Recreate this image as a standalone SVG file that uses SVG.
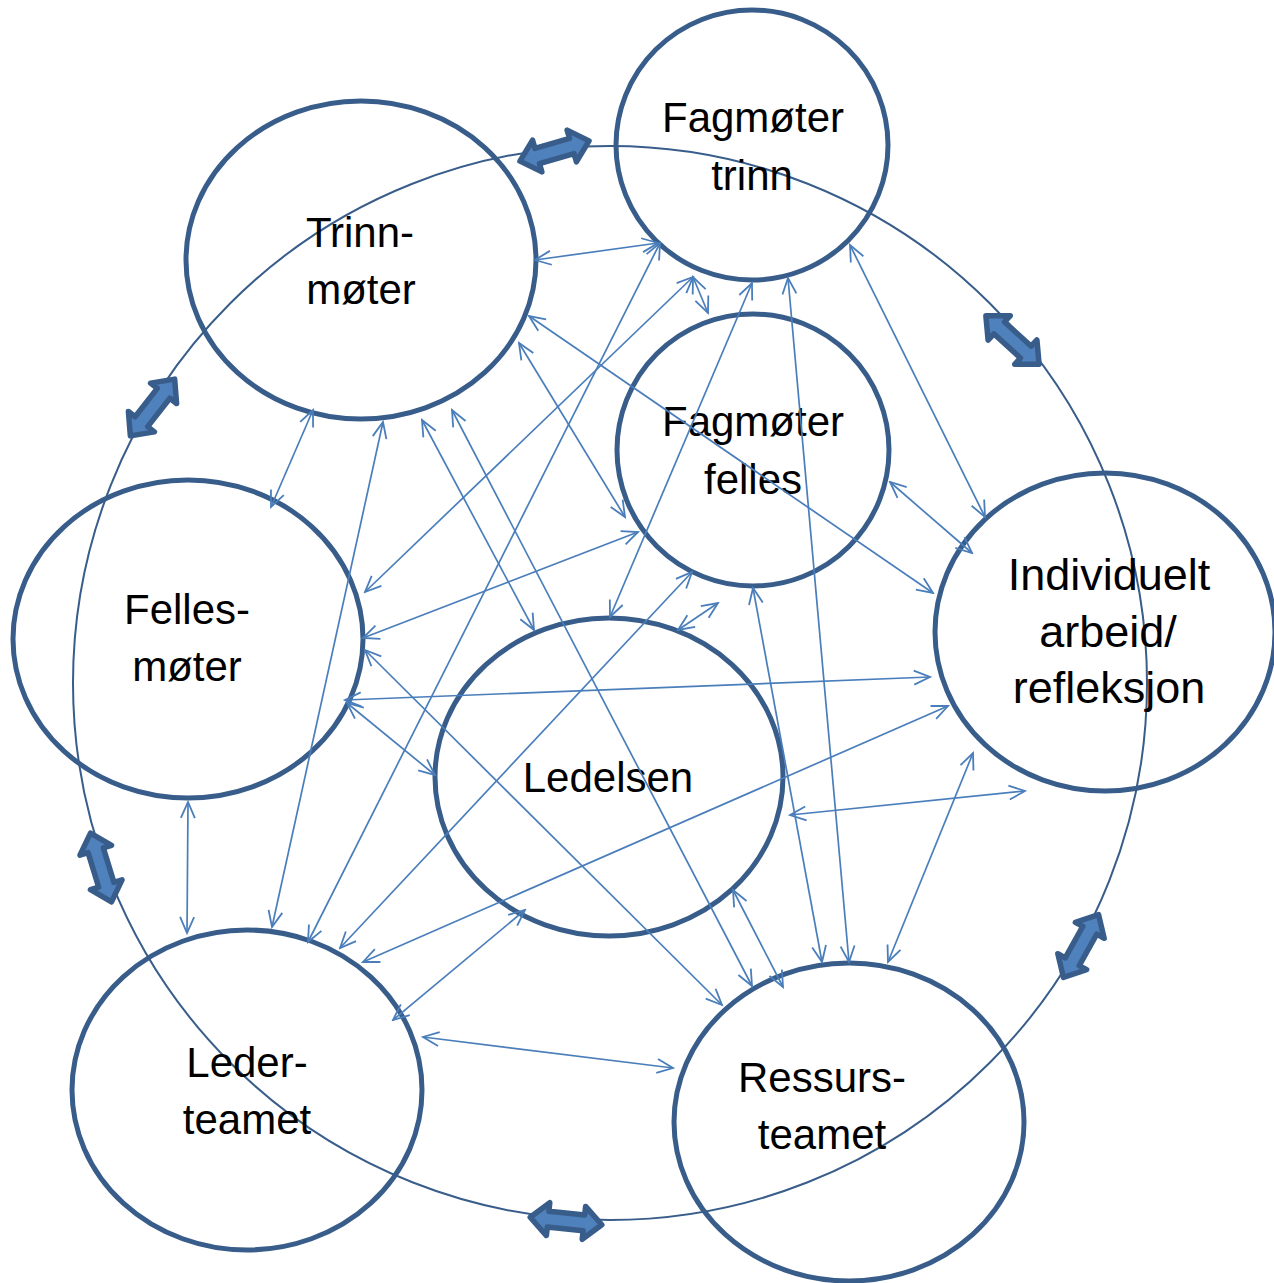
<svg xmlns="http://www.w3.org/2000/svg" xmlns:xlink="http://www.w3.org/1999/xlink" width="1274" height="1283" viewBox="0 0 1274 1283">
<style>
.node{fill:none;stroke:#385D8A;stroke-width:5}
.lbl{font-family:"Liberation Sans",Arial,sans-serif;font-size:42px;fill:#000;text-anchor:middle}
.con line{stroke:#4A7EBB;stroke-width:1.7;marker-start:url(#a);marker-end:url(#a)}
.ring{fill:none;stroke:#385D8A;stroke-width:2}
.big{fill:#4F81BD;stroke:#385D8A;stroke-width:5.5;stroke-linejoin:round}
</style>
<defs>
<marker id="a" viewBox="-18 -9 20 18" refX="0" refY="0" markerWidth="20" markerHeight="18" markerUnits="userSpaceOnUse" orient="auto-start-reverse">
<path d="M-16,-7 L0,0 L-16,7" fill="none" stroke="#4A7EBB" stroke-width="1.8"/>
</marker>
<path id="dbl" d="M-36,0 L-18,-16.5 L-18,-8 L18,-8 L18,-16.5 L36,0 L18,16.5 L18,8 L-18,8 L-18,16.5 Z"/>
</defs>
<rect width="1274" height="1283" fill="#fff"/>
<g id="cycle">
<circle class="ring" cx="610" cy="683" r="537"/>
<use xlink:href="#dbl" class="big" transform="translate(554.5,151) rotate(-16.3)"/>
<use xlink:href="#dbl" class="big" transform="translate(1012.5,340) rotate(42.3)"/>
<use xlink:href="#dbl" class="big" transform="translate(1081,946) rotate(-60.8)"/>
<use xlink:href="#dbl" class="big" transform="translate(566,1221) rotate(5.9)"/>
<use xlink:href="#dbl" class="big" transform="translate(101,867.5) rotate(73)"/>
<use xlink:href="#dbl" class="big" transform="translate(152.5,407.5) rotate(-52)"/>
</g>
<g id="fagmoter-trinn">
<ellipse class="node" cx="752" cy="145" rx="136" ry="135"/>
<text class="lbl" x="753" y="132">Fagmøter</text>
<text class="lbl" x="752" y="190">trinn</text>
</g>
<g id="trinnmoter">
<ellipse class="node" cx="361" cy="260" rx="175" ry="159"/>
<text class="lbl" x="360" y="247">Trinn-</text>
<text class="lbl" x="361" y="304">møter</text>
</g>
<g id="fagmoter-felles">
<ellipse class="node" cx="753" cy="450" rx="136" ry="136"/>
<text class="lbl" x="753" y="436">Fagmøter</text>
<text class="lbl" x="753" y="494">felles</text>
</g>
<g id="fellesmoter">
<ellipse class="node" cx="188" cy="639" rx="175" ry="159"/>
<text class="lbl" x="187" y="624">Felles-</text>
<text class="lbl" x="187" y="681">møter</text>
</g>
<g id="individuelt">
<ellipse class="node" cx="1105" cy="632" rx="170" ry="159"/>
<text class="lbl" x="1109" y="590" style="font-size:45px">Individuelt</text>
<text class="lbl" x="1108" y="647" style="font-size:45px">arbeid/</text>
<text class="lbl" x="1109" y="703" style="font-size:45px">refleksjon</text>
</g>
<g id="ledelsen">
<ellipse class="node" cx="609" cy="777" rx="174" ry="159"/>
<text class="lbl" x="608" y="792">Ledelsen</text>
</g>
<g id="lederteamet">
<ellipse class="node" cx="247" cy="1090" rx="175" ry="160"/>
<text class="lbl" x="247" y="1077">Leder-</text>
<text class="lbl" x="247" y="1134">teamet</text>
</g>
<g id="ressursteamet">
<ellipse class="node" cx="849" cy="1122" rx="175" ry="159"/>
<text class="lbl" x="822" y="1092">Ressurs-</text>
<text class="lbl" x="822" y="1149">teamet</text>
</g>
<g id="connectors" class="con">
<line x1="535" y1="260" x2="658" y2="243"/>
<line x1="529" y1="316" x2="933" y2="593"/>
<line x1="519" y1="343" x2="625" y2="517"/>
<line x1="422" y1="420" x2="534" y2="630"/>
<line x1="452" y1="410" x2="752" y2="986"/>
<line x1="383" y1="422" x2="272" y2="927"/>
<line x1="313" y1="410" x2="271" y2="507"/>
<line x1="660" y1="243" x2="308" y2="942"/>
<line x1="693" y1="277" x2="365" y2="592"/>
<line x1="693" y1="277" x2="708" y2="313"/>
<line x1="752" y1="283" x2="610" y2="617"/>
<line x1="788" y1="278" x2="849" y2="962"/>
<line x1="850" y1="245" x2="985" y2="517"/>
<line x1="638" y1="532" x2="363" y2="638"/>
<line x1="692" y1="572" x2="340" y2="948"/>
<line x1="718" y1="603" x2="678" y2="630"/>
<line x1="753" y1="588" x2="822" y2="962"/>
<line x1="890" y1="482" x2="972" y2="553"/>
<line x1="365" y1="650" x2="722" y2="1005"/>
<line x1="345" y1="700" x2="930" y2="677"/>
<line x1="347" y1="703" x2="435" y2="775"/>
<line x1="188" y1="802" x2="187" y2="933"/>
<line x1="525" y1="910" x2="393" y2="1020"/>
<line x1="733" y1="890" x2="783" y2="987"/>
<line x1="790" y1="815" x2="1025" y2="791"/>
<line x1="888" y1="962" x2="973" y2="753"/>
<line x1="423" y1="1037" x2="673" y2="1068"/>
<line x1="363" y1="962" x2="948" y2="706"/>
</g>
</svg>
